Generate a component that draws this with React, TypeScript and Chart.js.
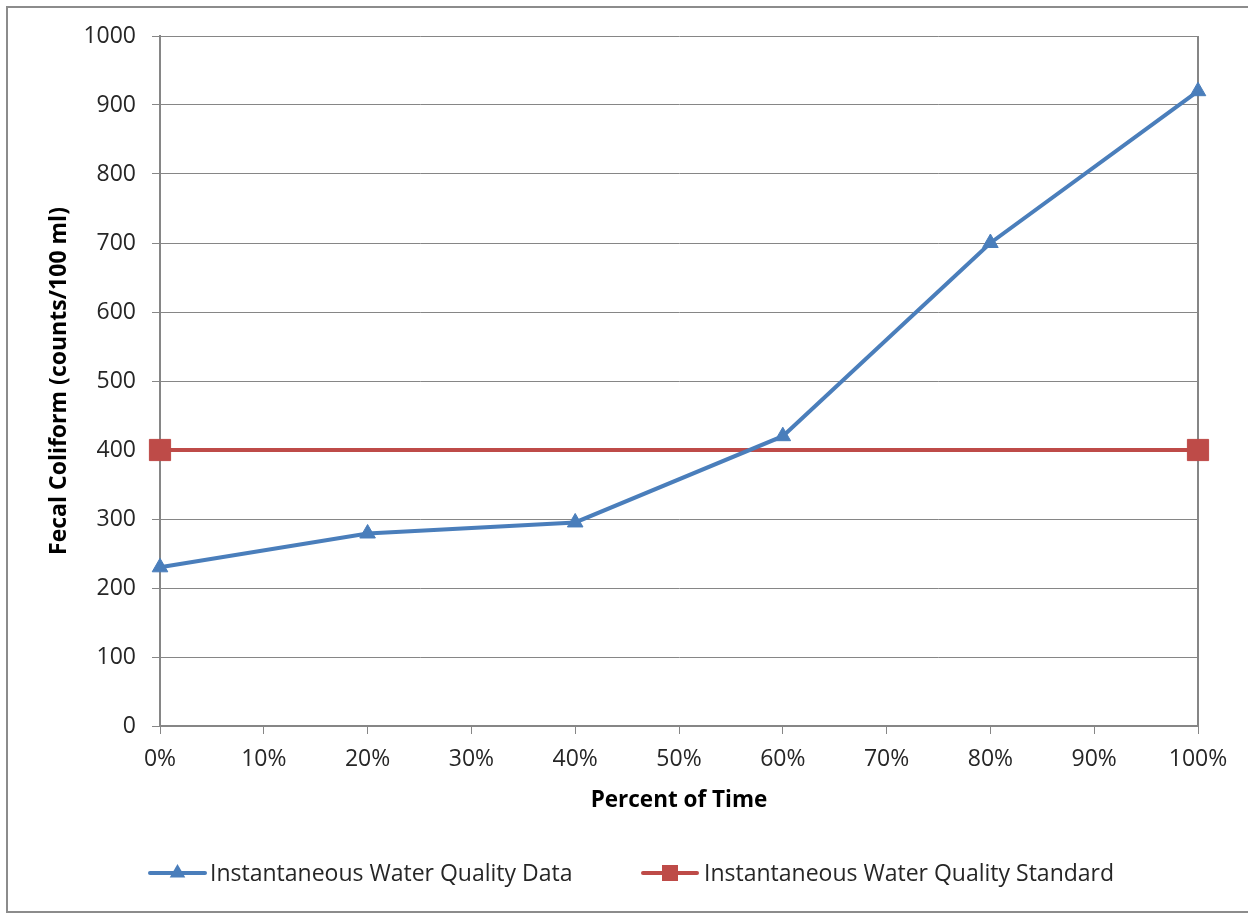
import React, { useEffect, useRef } from "react";
import { Chart, registerables } from "chart.js";

Chart.register(...registerables);

const percentOfTime = [0, 20, 40, 60, 80, 100];
const dataValues = [230, 279, 295, 420, 700, 920];
const standardPercent = [0, 100];
const standardValues = [400, 400];
const seriesLabels = ["Instantaneous Water Quality Data", "Instantaneous Water Quality Standard"];
const xTitle = "Percent of Time";
const yTitle = "Fecal Coliform (counts/100 ml)";
const xTickStep = 10;
const yTickStep = 100;

const FONT = "'Open Sans', sans-serif";
const GRID = "#868686";
const TEXT = "#262626";
const BLUE = "#4A7EBB";
const RED = "#BE4B48";

const framePlugin = {
  id: "frame",
  beforeDraw(chart: any) {
    const ctx = chart.ctx;
    ctx.save();
    ctx.fillStyle = "#ffffff";
    ctx.fillRect(0, 0, chart.width, chart.height);
    ctx.strokeStyle = "#8c8c8c";
    ctx.lineWidth = 2;
    ctx.beginPath();
    ctx.moveTo(chart.width + 5, 7);
    ctx.lineTo(7, 7);
    ctx.lineTo(7, 912);
    ctx.lineTo(chart.width + 5, 912);
    ctx.stroke();
    ctx.restore();
  },
  beforeDatasetsDraw(chart: any) {
    const { ctx, chartArea } = chart;
    ctx.save();
    ctx.strokeStyle = GRID;
    ctx.lineWidth = 2;
    ctx.beginPath();
    ctx.moveTo(chartArea.right, chartArea.top);
    ctx.lineTo(chartArea.right, chartArea.bottom);
    ctx.stroke();
    ctx.restore();
  },
};

const legendItems = [
  { lineStart: 150, lineEnd: 205, textX: 210 },
  { lineStart: 643, lineEnd: 697, textX: 704 },
];

const legendPlugin = {
  id: "customLegend",
  afterDraw(chart: any) {
    const ctx = chart.ctx;
    const y = 873;
    ctx.save();
    chart.data.datasets.forEach((ds: any, i: number) => {
      const it = legendItems[i];
      if (!it) return;
      ctx.strokeStyle = ds.borderColor;
      ctx.lineWidth = 4;
      ctx.lineCap = "round";
      ctx.beginPath();
      ctx.moveTo(it.lineStart, y);
      ctx.lineTo(it.lineEnd, y);
      ctx.stroke();
      const cx = (it.lineStart + it.lineEnd) / 2;
      ctx.fillStyle = ds.pointBackgroundColor;
      if (ds.pointStyle === "triangle") {
        const r = 9;
        ctx.beginPath();
        ctx.moveTo(cx, y - r);
        ctx.lineTo(cx + r * 0.866, y + r / 2);
        ctx.lineTo(cx - r * 0.866, y + r / 2);
        ctx.closePath();
        ctx.fill();
      } else {
        ctx.fillRect(cx - 8, y - 8, 16, 16);
      }
      ctx.fillStyle = TEXT;
      ctx.font = `23px ${FONT}`;
      ctx.textAlign = "left";
      ctx.textBaseline = "middle";
      ctx.fillText(ds.label, it.textX, y + 1);
    });
    ctx.restore();
  },
};

export default function App() {
  const ref = useRef<HTMLCanvasElement | null>(null);

  useEffect(() => {
    if (!ref.current) return;
    const chart = new Chart(ref.current, {
      type: "line",
      data: {
        datasets: [
          {
            label: seriesLabels[0],
            data: percentOfTime.map((x, i) => ({ x, y: dataValues[i] })),
            borderColor: BLUE,
            backgroundColor: BLUE,
            pointBackgroundColor: BLUE,
            pointBorderColor: BLUE,
            pointStyle: "triangle",
            pointRadius: 9,
            pointBorderWidth: 1,
            borderWidth: 4,
            tension: 0,
            clip: false as any,
          },
          {
            label: seriesLabels[1],
            data: standardPercent.map((x, i) => ({ x, y: standardValues[i] })),
            borderColor: RED,
            backgroundColor: RED,
            pointBackgroundColor: RED,
            pointBorderColor: RED,
            pointStyle: "rect",
            pointRadius: 15,
            pointBorderWidth: 1,
            borderWidth: 4,
            tension: 0,
            clip: false as any,
          },
        ],
      },
      options: {
        animation: false,
        responsive: false,
        maintainAspectRatio: false,
        layout: { padding: { left: 0, top: 36, right: 50, bottom: 100 } },
        plugins: {
          legend: { display: false },
          tooltip: { enabled: false },
        },
        scales: {
          x: {
            type: "linear",
            min: 0,
            max: 100,
            afterFit(scale: any) {
              scale.height = 88;
            },
            ticks: {
              stepSize: xTickStep,
              padding: 12,
              color: TEXT,
              font: { family: FONT, size: 23 },
              callback: (v: any) => `${v}%`,
              maxRotation: 0,
            },
            grid: {
              drawOnChartArea: false,
              drawTicks: true,
              tickLength: 8,
              color: GRID,
              lineWidth: 1,
            },
            border: { display: true, color: GRID, width: 2 },
            title: {
              display: true,
              text: xTitle,
              color: "#000",
              font: { family: FONT, size: 22.5, weight: "bold" },
              padding: { top: 0, bottom: 0 },
            },
          },
          y: {
            type: "linear",
            min: 0,
            max: 1000,
            afterFit(scale: any) {
              scale.width = 160;
            },
            ticks: {
              stepSize: yTickStep,
              padding: 16,
              color: TEXT,
              font: { family: FONT, size: 23 },
              callback: (v: any) => String(v),
            },
            grid: {
              drawTicks: true,
              tickLength: 8,
              color: GRID,
              lineWidth: 1,
            },
            border: { display: true, color: GRID, width: 2 },
            title: {
              display: true,
              text: yTitle,
              color: "#000",
              font: { family: FONT, size: 23, weight: "bold" },
              padding: { top: 46, bottom: 0 },
            },
          },
        },
      },
      plugins: [framePlugin, legendPlugin],
    } as any);
    return () => chart.destroy();
  }, []);

  return (
    <div style={{ position: "absolute", left: 0, top: 0, width: 1248, height: 914 }}>
      <canvas ref={ref} width={1248} height={914} style={{ display: "block" }} />
    </div>
  );
}
